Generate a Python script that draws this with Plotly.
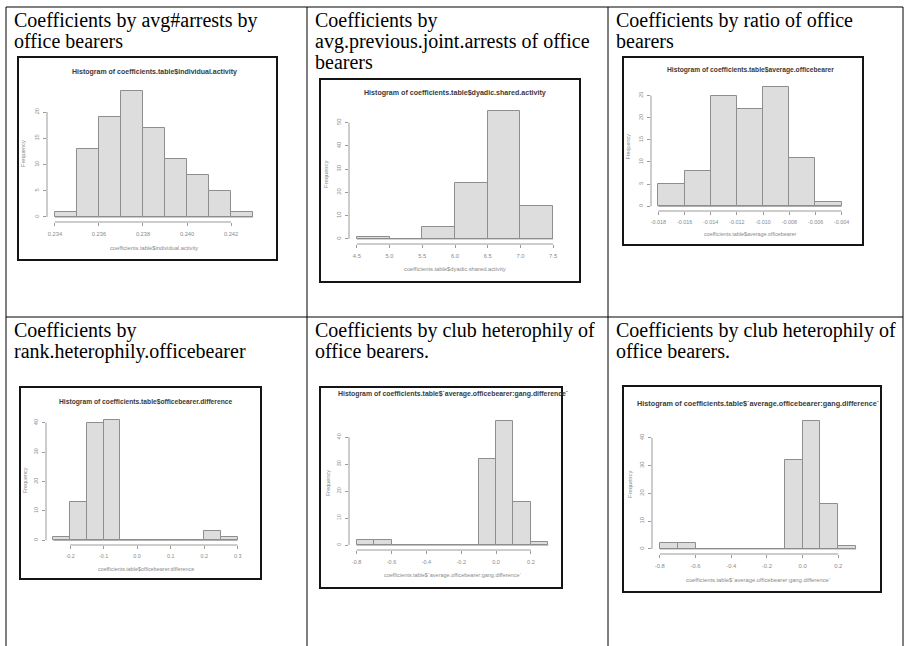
import plotly.graph_objects as go

W, H = 910, 646

# ---- histogram data (bin edges and counts) ----
edges_activity = [0.234, 0.235, 0.236, 0.237, 0.238, 0.239, 0.240, 0.241, 0.242, 0.243]
counts_activity = [1, 13, 19, 24, 17, 11, 8, 5, 1]
xticks_activity = [0.234, 0.236, 0.238, 0.240, 0.242]
xlabels_activity = ["0.234", "0.236", "0.238", "0.240", "0.242"]
yticks_activity = [0, 5, 10, 15, 20]

edges_dyadic = [4.5, 5.0, 5.5, 6.0, 6.5, 7.0, 7.5]
counts_dyadic = [1, 0, 5, 24, 55, 14]
xticks_dyadic = [4.5, 5.0, 5.5, 6.0, 6.5, 7.0, 7.5]
xlabels_dyadic = ["4.5", "5.0", "5.5", "6.0", "6.5", "7.0", "7.5"]
yticks_dyadic = [0, 10, 20, 30, 40, 50]

edges_ratio = [-0.018, -0.016, -0.014, -0.012, -0.010, -0.008, -0.006, -0.004]
counts_ratio = [5, 8, 25, 22, 27, 11, 1]
xticks_ratio = [-0.018, -0.016, -0.014, -0.012, -0.010, -0.008, -0.006, -0.004]
xlabels_ratio = ["-0.018", "-0.016", "-0.014", "-0.012", "-0.010", "-0.008", "-0.006", "-0.004"]
yticks_ratio = [0, 5, 10, 15, 20, 25]

edges_rank = [-0.25, -0.20, -0.15, -0.10, -0.05, 0.00, 0.05, 0.10, 0.15, 0.20, 0.25, 0.30]
counts_rank = [1, 13, 40, 41, 0, 0, 0, 0, 0, 3, 1]
xticks_rank = [-0.2, -0.1, 0.0, 0.1, 0.2, 0.3]
xlabels_rank = ["-0.2", "-0.1", "0.0", "0.1", "0.2", "0.3"]
yticks_rank = [0, 10, 20, 30, 40]

edges_club = [-0.8, -0.7, -0.6, -0.5, -0.4, -0.3, -0.2, -0.1, 0.0, 0.1, 0.2, 0.3]
counts_club = [2, 2, 0, 0, 0, 0, 0, 32, 46, 16, 1]
xticks_club = [-0.8, -0.6, -0.4, -0.2, 0.0, 0.2]
xlabels_club = ["-0.8", "-0.6", "-0.4", "-0.2", "0.0", "0.2"]
yticks_club = [0, 10, 20, 30, 40]

# ---- table cell headings ----
headings = [
    ["Coefficients by avg#arrests by", "office bearers"],
    ["Coefficients by", "avg.previous.joint.arrests of office", "bearers"],
    ["Coefficients by ratio of office", "bearers"],
    ["Coefficients by", "rank.heterophily.officebearer"],
    ["Coefficients by club heterophily of", "office bearers."],
    ["Coefficients by club heterophily of", "office bearers."],
]

hist_titles = [
    "Histogram of coefficients.table$individual.activity",
    "Histogram of coefficients.table$dyadic.shared.activity",
    "Histogram of coefficients.table$average.officebearer",
    "Histogram of coefficients.table$officebearer.difference",
    "Histogram of coefficients.table$`average.officebearer:gang.difference`",
    "Histogram of coefficients.table$`average.officebearer:gang.difference`",
]
x_titles = [
    "coefficients.table$individual.activity",
    "coefficients.table$dyadic.shared.activity",
    "coefficients.table$average.officebearer",
    "coefficients.table$officebearer.difference",
    "coefficients.table$`average.officebearer:gang.difference`",
    "coefficients.table$`average.officebearer:gang.difference`",
]

series = [
    (edges_activity, counts_activity, xticks_activity, xlabels_activity, yticks_activity),
    (edges_dyadic, counts_dyadic, xticks_dyadic, xlabels_dyadic, yticks_dyadic),
    (edges_ratio, counts_ratio, xticks_ratio, xlabels_ratio, yticks_ratio),
    (edges_rank, counts_rank, xticks_rank, xlabels_rank, yticks_rank),
    (edges_club, counts_club, xticks_club, xlabels_club, yticks_club),
    (edges_club, counts_club, xticks_club, xlabels_club, yticks_club),
]

# ---- pixel layout of each panel ----
# plot box (l, t, r, b), frame (l, t, r, b), title y, x-title y, y-title x, font sizes
panels = [
    dict(box=(47, 86, 261, 222), frame=(18, 57, 277, 260), ty=72, xty=248, ytx=23, fs=7.0, afs=5.7),
    dict(box=(349, 106, 561, 244), frame=(320, 79, 580, 282), ty=93, xty=269, ytx=326, fs=7.1, afs=5.8),
    dict(box=(651, 82, 849, 211), frame=(623, 57, 863, 245), ty=70, xty=234, ytx=628, fs=6.7, afs=5.4),
    dict(box=(46, 415, 245, 545), frame=(20, 387, 261, 579), ty=402, xty=569, ytx=25, fs=6.7, afs=5.4),
    dict(box=(349, 416, 556, 550), frame=(320, 387, 562, 588), ty=394, xty=575, ytx=328, fs=6.9, afs=5.5),
    dict(box=(652, 416, 864, 554), frame=(623, 386, 881, 592), ty=403, xty=580, ytx=630, fs=7.25, afs=5.8),
]

# heading text positions: (x start, first baseline) per cell
head_pos = [(14, 27), (315, 27), (616, 27), (14, 337), (315, 337), (616, 337)]
LINE_STEP = 21
HEAD_FS = 20

# table grid
TABLE_L, TABLE_T, TABLE_R = 6, 7, 903
COL_X = [307, 608]
ROW_Y = 317


def px(x):
    return x / W


def py(y):
    return 1 - y / H


BAR_FILL = "#DDDDDD"
BAR_LINE = "#8E8E8E"
AXIS_COL = "#9A9A9A"
LABEL_COL = "#8A8A8A"
TITLE_COL = "#3A3A3A"
SANS = "Liberation Sans, Arial, sans-serif"
SERIF = "Liberation Serif, Times New Roman, serif"

fig = go.Figure()
shapes = []
annotations = []

for i, (p, (edges, counts, xt, xl, yt)) in enumerate(zip(panels, series), start=1):
    sfx = "" if i == 1 else str(i)
    xa, ya = "x" + sfx, "y" + sfx
    centers = [(a + b) / 2 for a, b in zip(edges[:-1], edges[1:])]
    widths = [b - a for a, b in zip(edges[:-1], edges[1:])]

    # baseline along the bottom of every bin (shows empty bins as a flat edge)
    fig.add_trace(go.Scatter(
        x=[edges[0], edges[-1]], y=[0, 0], mode="lines",
        line=dict(color=BAR_LINE, width=1), xaxis=xa, yaxis=ya,
        hoverinfo="skip", showlegend=False))
    fig.add_trace(go.Bar(
        x=centers, y=counts, width=widths,
        marker=dict(color=BAR_FILL, line=dict(color=BAR_LINE, width=1)),
        xaxis=xa, yaxis=ya, showlegend=False))

    l, t, r, b = p["box"]
    span = edges[-1] - edges[0]
    ymax = max(counts)
    tick_font = dict(family=SANS, size=p["afs"], color=LABEL_COL)
    fig.layout["xaxis" + sfx] = dict(
        domain=[px(l), px(r)], anchor=ya,
        range=[edges[0] - 0.04 * span, edges[-1] + 0.04 * span],
        showgrid=False, zeroline=False, showline=False,
        ticks="outside", ticklen=3, tickwidth=1, tickcolor=AXIS_COL,
        tickvals=xt, ticktext=xl, tickfont=tick_font, ticklabelstandoff=3,
        fixedrange=True)
    fig.layout["yaxis" + sfx] = dict(
        domain=[py(b), py(t)], anchor=xa,
        range=[-0.04 * ymax, 1.04 * ymax],
        showgrid=False, zeroline=False, showline=False,
        ticks="outside", ticklen=3, tickwidth=1, tickcolor=AXIS_COL,
        tickvals=yt, tickangle=-90, tickfont=tick_font, ticklabelstandoff=2,
        fixedrange=True)

    # R-style axis lines spanning only the tick range
    shapes.append(dict(type="line", xref=xa, yref=ya + " domain",
                       x0=xt[0], x1=xt[-1], y0=0, y1=0,
                       line=dict(color=AXIS_COL, width=1)))
    shapes.append(dict(type="line", xref=xa + " domain", yref=ya,
                       x0=0, x1=0, y0=yt[0], y1=yt[-1],
                       line=dict(color=AXIS_COL, width=1)))

    # frame around each histogram
    fl, ft, fr, fb = p["frame"]
    shapes.append(dict(type="rect", xref="paper", yref="paper",
                       x0=px(fl), x1=px(fr), y0=py(fb), y1=py(ft),
                       line=dict(color="#151515", width=2)))

    cx = (l + r) / 2
    annotations.append(dict(
        text="<b>" + hist_titles[i - 1] + "</b>", xref="paper", yref="paper",
        x=px(cx), y=py(p["ty"]), xanchor="center", yanchor="middle",
        showarrow=False, font=dict(family=SANS, size=p["fs"], color=TITLE_COL)))
    annotations.append(dict(
        text=x_titles[i - 1], xref="paper", yref="paper",
        x=px(cx), y=py(p["xty"]), xanchor="center", yanchor="middle",
        showarrow=False, font=dict(family=SANS, size=p["afs"], color=LABEL_COL)))
    annotations.append(dict(
        text="Frequency", xref="paper", yref="paper", textangle=-90,
        x=px(p["ytx"]), y=py((t + b) / 2), xanchor="center", yanchor="middle",
        showarrow=False, font=dict(family=SANS, size=p["afs"], color=LABEL_COL)))

# cell headings, one annotation per text line
for lines, (hx, hy) in zip(headings, head_pos):
    for k, line in enumerate(lines):
        baseline = hy + k * LINE_STEP
        annotations.append(dict(
            text=line, xref="paper", yref="paper",
            x=px(hx - 2), y=py(baseline - 6.75), xanchor="left", yanchor="middle",
            showarrow=False, font=dict(family=SERIF, size=HEAD_FS, color="#000000")))

# table grid lines
grid = dict(color="#000000", width=1)
shapes.append(dict(type="line", xref="paper", yref="paper",
                   x0=px(TABLE_L), x1=px(TABLE_R), y0=py(TABLE_T), y1=py(TABLE_T), line=grid))
shapes.append(dict(type="line", xref="paper", yref="paper",
                   x0=px(TABLE_L), x1=px(TABLE_R), y0=py(ROW_Y), y1=py(ROW_Y), line=grid))
for gx in [TABLE_L] + COL_X + [TABLE_R]:
    shapes.append(dict(type="line", xref="paper", yref="paper",
                       x0=px(gx), x1=px(gx), y0=py(TABLE_T), y1=0, line=grid))

fig.update_layout(
    width=W, height=H, margin=dict(l=0, r=0, t=0, b=0),
    paper_bgcolor="white", plot_bgcolor="rgba(0,0,0,0)",
    showlegend=False, bargap=0, shapes=shapes, annotations=annotations,
)

fig.write_html("out.html")
